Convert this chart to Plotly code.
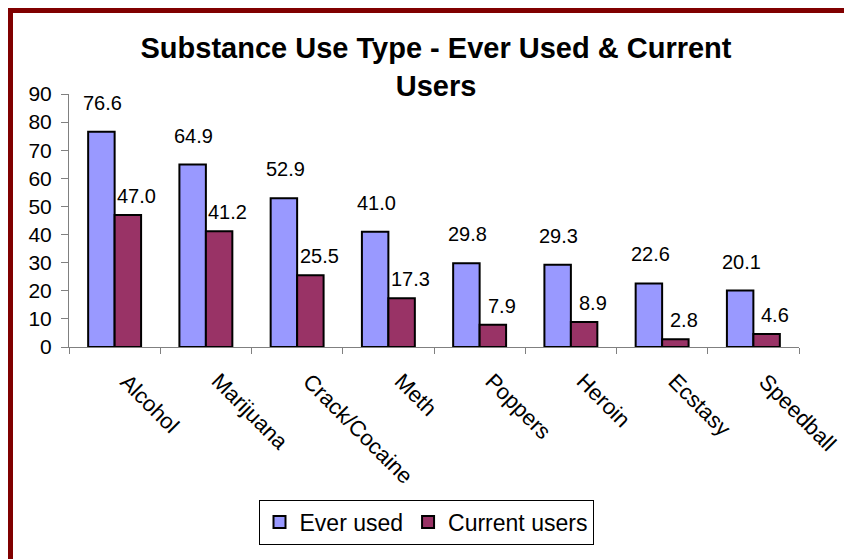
import plotly.graph_objects as go

categories = ["Alcohol", "Marijuana", "Crack/Cocaine", "Meth", "Poppers", "Heroin", "Ecstasy", "Speedball"]
ever_used = [76.6, 64.9, 52.9, 41.0, 29.8, 29.3, 22.6, 20.1]
current_users = [47.0, 41.2, 25.5, 17.3, 7.9, 8.9, 2.8, 4.6]
y_ticks = [0, 10, 20, 30, 40, 50, 60, 70, 80, 90]

FONT = "Liberation Sans, Arial, sans-serif"
BLUE = "#9999FF"
PLUM = "#993366"

W, H = 844, 559
L, R, T, B = 69, 45, 94, 212
pw, ph = W - L - R, H - T - B

fig = go.Figure()
fig.add_trace(go.Bar(name="Ever used", x=categories, y=ever_used,
                     marker=dict(color=BLUE, line=dict(color="black", width=2))))
fig.add_trace(go.Bar(name="Current users", x=categories, y=current_users,
                     marker=dict(color=PLUM, line=dict(color="black", width=2))))

annotations = []
for c, v in zip(categories, ever_used):
    annotations.append(dict(x=c, y=v, xref="x", yref="y", text=f"{v:.1f}", showarrow=False,
                            xshift=-12, yshift=29, yanchor="middle",
                            font=dict(family=FONT, size=20, color="black")))
for c, v in zip(categories, current_users):
    annotations.append(dict(x=c, y=v, xref="x", yref="y", text=f"{v:.1f}", showarrow=False,
                            xshift=22, yshift=19, yanchor="middle",
                            font=dict(family=FONT, size=20, color="black")))
# rotated category labels
for c in categories:
    annotations.append(dict(x=c, y=0, xref="x", yref="y", text=c, showarrow=False,
                            textangle=45, xanchor="left", yanchor="top",
                            xshift=-2, yshift=-19,
                            font=dict(family=FONT, size=22, color="black")))

def px_x(p):
    return (p - L) / pw

def px_y(p):
    return (H - B - p) / ph

# dark red frame (top and left edges visible)
fig.add_shape(type="rect", xref="paper", yref="paper",
              x0=px_x(10.5), x1=px_x(W + 20), y0=px_y(H + 20), y1=px_y(10.5),
              line=dict(color="#800000", width=5), fillcolor="rgba(0,0,0,0)", layer="below")

fig.update_layout(
    width=W, height=H,
    margin=dict(l=L, r=R, t=T, b=B),
    paper_bgcolor="white", plot_bgcolor="white",
    barmode="group", bargap=0.42, bargroupgap=0,
    font=dict(family=FONT, color="black"),
    title=dict(text="<b>Substance Use Type - Ever Used & Current<br>Users</b>",
               xref="container", x=436 / W, xanchor="center", y=1 - 58 / H, yanchor="top",
               font=dict(family=FONT, size=29, color="black")),
    xaxis=dict(range=[-0.5, len(categories) - 0.5], autorange=False,
               showline=True, linecolor="#808080", linewidth=1, ticks="outside", ticklen=6,
               tickcolor="#808080", tickson="boundaries", showticklabels=False, showgrid=False),
    yaxis=dict(range=[0, 90], autorange=False, tickvals=y_ticks, showline=True, linecolor="#808080",
               linewidth=1, ticks="outside", ticklen=7, tickcolor="#808080", showgrid=False,
               zeroline=False, tickfont=dict(family=FONT, size=21, color="black"),
               ticklabelstandoff=5),
    legend=dict(orientation="h", x=px_x(426), xanchor="center", y=px_y(522), yanchor="middle",
                bordercolor="black", borderwidth=1, font=dict(family=FONT, size=23, color="black"),
                itemwidth=30, tracegroupgap=0, itemclick=False),
    annotations=annotations,
    showlegend=True,
)

fig.write_html("out.html")
